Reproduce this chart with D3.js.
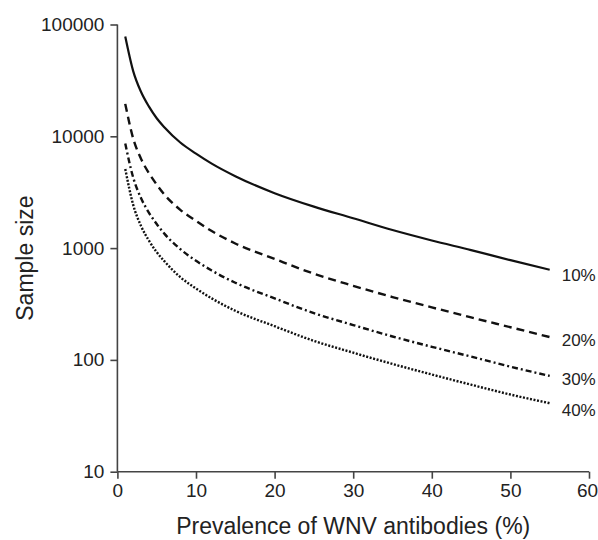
<!DOCTYPE html>
<html>
<head>
<meta charset="utf-8">
<script src="https://cdn.jsdelivr.net/npm/d3@7"></script>
<style>
  body { margin: 0; background: #fff; }
  svg { font-family: "Liberation Sans", Arial, sans-serif; }
</style>
</head>
<body>
<svg id="chart" width="598" height="540"></svg>
<script>
const prevalence = [1, 2, 3, 4, 5, 6, 8, 10, 12, 15, 20, 25, 30, 35, 40, 45, 50, 55];

// Sample size for each relative precision
const size10 = [78000, 38500, 25000, 18500, 14500, 12000, 8800, 7000, 5700, 4400, 3100, 2350, 1850, 1450, 1170, 960, 780, 640];
const size20 = [19500, 9600, 6300, 4700, 3700, 3000, 2200, 1750, 1420, 1100, 800, 590, 460, 365, 295, 240, 196, 160];
const size30 = [8600, 4300, 2800, 2080, 1640, 1340, 980, 770, 630, 490, 355, 262, 205, 162, 131, 107, 87, 72];
const size40 = [5100, 2450, 1580, 1170, 920, 760, 550, 435, 355, 275, 200, 148, 116, 92, 74, 60, 49, 41];

const seriesLabels = ['10%', '20%', '30%', '40%'];
const xTicks = [0, 10, 20, 30, 40, 50, 60];
const yTicks = [10, 100, 1000, 10000, 100000];

const margin = { top: 24.5, right: 9, bottom: 68.3, left: 117.4 };
const width = 598 - margin.left - margin.right;
const height = 540 - margin.top - margin.bottom;

const svg = d3.select('#chart');
const g = svg.append('g').attr('transform', `translate(${margin.left},${margin.top})`);

const x = d3.scaleLinear().domain([0, 60]).range([0, width]);
const y = d3.scaleLog().domain([10, 100000]).range([height, 0]);

// Axes
const xAxis = g.append('g')
  .attr('transform', `translate(0,${height})`)
  .call(d3.axisBottom(x).tickValues(xTicks).tickSize(7).tickPadding(5));
const yAxis = g.append('g')
  .call(d3.axisLeft(y).tickValues(yTicks).tickFormat(d3.format('d')).tickSize(7).tickPadding(6));

[xAxis, yAxis].forEach(ax => {
  ax.selectAll('path, line').attr('stroke', '#444').attr('stroke-width', 1.6);
  ax.selectAll('text').attr('fill', '#222').style('font-size', '19px');
});
xAxis.select('.domain').attr('d', `M0,0H${width}`);
yAxis.select('.domain').attr('d', `M0,${height}V0`);
// keep the last tick label inside the page
xAxis.selectAll('.tick text').filter(d => d === 60).attr('dx', -2);

// Curves
const series = [
  { label: seriesLabels[0], values: size10, dash: null, sw: 2.2, labelY: 3 },
  { label: seriesLabels[1], values: size20, dash: '8,5', sw: 2.4, labelY: 0 },
  { label: seriesLabels[2], values: size30, dash: '6,3,2,3', sw: 2.4, labelY: 1 },
  { label: seriesLabels[3], values: size40, dash: '2,1.6', sw: 2.4, labelY: 4 }
];

const line = d3.line()
  .x(d => x(d[0]))
  .y(d => y(d[1]))
  .curve(d3.curveMonotoneX);

series.forEach(s => {
  const pts = prevalence.map((p, i) => [p, s.values[i]]);
  g.append('path')
    .datum(pts)
    .attr('fill', 'none')
    .attr('stroke', '#111')
    .attr('stroke-width', s.sw)
    .attr('stroke-dasharray', s.dash)
    .attr('d', line);

  const last = pts[pts.length - 1];
  g.append('text')
    .attr('x', x(last[0]) + 12)
    .attr('y', y(last[1]) + s.labelY)
    .attr('dy', '0.5em')
    .attr('fill', '#222')
    .style('font-size', '17px')
    .text(s.label);
});

// Axis titles
svg.append('text')
  .attr('x', margin.left + x(30))
  .attr('y', 534)
  .attr('text-anchor', 'middle')
  .attr('fill', '#222')
  .style('font-size', '23px')
  .text('Prevalence of WNV antibodies (%)');

svg.append('text')
  .attr('transform', `translate(33,${margin.top + height / 2 + 10}) rotate(-90)`)
  .attr('text-anchor', 'middle')
  .attr('fill', '#222')
  .style('font-size', '23px')
  .text('Sample size');
</script>
</body>
</html>
